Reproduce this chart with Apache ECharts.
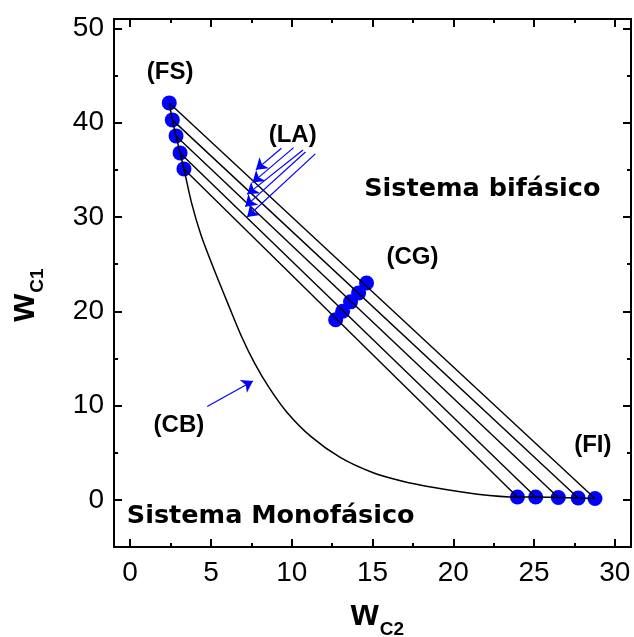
<!DOCTYPE html>
<html>
<head>
<meta charset="utf-8">
<script src="https://cdn.jsdelivr.net/npm/echarts@6/dist/echarts.min.js"></script>
<style>
  html, body { margin: 0; padding: 0; background: #fff; }
  #chart { width: 634px; height: 637px; }
</style>
</head>
<body>
<div id="chart"></div>
<script>
// tick values
const xMajor = [0, 5, 10, 15, 20, 25, 30]
const xMinor = [2.5, 7.5, 12.5, 17.5, 22.5, 27.5]
const yMajor = [0, 10, 20, 30, 40, 50]
const yMinor = [5, 15, 25, 35, 45]

// fase superior (FS), composicion global (CG), fase inferior (FI)
const fsPoints = [[2.42, 42.1], [2.61, 40.3], [2.84, 38.6], [3.09, 36.8], [3.33, 35.1]]
const cgPoints = [[14.63, 23.0], [14.14, 21.95], [13.64, 21.0], [13.15, 20.0], [12.72, 19.1]]
const fiPoints = [[28.77, 0.15], [27.73, 0.2], [26.5, 0.25], [25.1, 0.3], [23.97, 0.3]]

// curva binodal (CB)
const binodal = [
  [2.42, 42.1], [2.61, 40.3], [2.84, 38.6], [3.09, 36.8], [3.33, 35.1],
  [3.8, 31.5], [4.4, 28.0], [5.2, 24.4], [6.1, 20.6], [6.9, 17.3],
  [7.7, 14.5], [8.6, 11.9], [9.7, 9.3], [11.2, 6.7], [13.0, 4.5],
  [15.0, 2.9], [16.8, 2.0], [18.8, 1.3], [21.5, 0.6], [23.97, 0.3],
  [25.1, 0.3], [26.5, 0.25], [27.73, 0.2], [28.77, 0.15]
]

// flechas (inicio, fin)
const laArrows = [
  [[9.36, 37.3], [7.78, 35.0]],
  [[10.12, 37.36], [7.57, 33.65]],
  [[10.7, 37.1], [7.24, 32.4]],
  [[10.85, 36.9], [7.12, 31.1]],
  [[11.46, 36.7], [7.24, 30.0]]
]
const cbArrow = [[[4.77, 9.9], [7.6, 12.6]]]

// textos
const tagLabels = [
  ['(FS)', 2.47, 45.3],
  ['(LA)', 10.06, 38.7],
  ['(CG)', 17.47, 25.7],
  ['(CB)', 3.02, 7.95],
  ['(FI)', 28.64, 5.73]
]
const regionLabels = [
  ['Sistema bifásico', 21.8, 32.9],
  ['Sistema Monofásico', 8.7, -1.7]
]

const chart = echarts.init(document.getElementById('chart'))

function axis(dim, pos, ticks, len, withLabel) {
  return {
    type: 'value',
    position: pos,
    min: dim === 'x' ? -1 : -5,
    max: dim === 'x' ? 31 : 51,
    axisLine: { show: true, onZero: false, lineStyle: { color: '#000', width: 2 } },
    axisTick: { show: true, inside: true, length: len, customValues: ticks, lineStyle: { color: '#000', width: 2 } },
    axisLabel: {
      show: withLabel, customValues: ticks, color: '#000', fontSize: 28,
      fontFamily: 'Liberation Sans', margin: dim === 'x' ? 12 : 10
    },
    splitLine: { show: false }
  }
}

const nameRich = {
  w: { fontSize: 36, fontWeight: 'bold', fontFamily: 'Liberation Sans', color: '#000', lineHeight: 36 },
  s: { fontSize: 19, fontWeight: 'bold', fontFamily: 'Liberation Sans', color: '#000', lineHeight: 19, padding: [28, 0, 0, 1] }
}

const xAxes = [
  axis('x', 'bottom', xMajor, 8, true),
  axis('x', 'bottom', xMinor, 4, false),
  axis('x', 'top', xMajor, 8, false),
  axis('x', 'top', xMinor, 4, false)
]
xAxes[0].name = '{w|w}{s|C2}'
xAxes[0].nameLocation = 'middle'
xAxes[0].nameGap = 35
xAxes[0].nameTextStyle = { rich: nameRich, padding: [0, 0, 0, 10] }

const yAxes = [
  axis('y', 'left', yMajor, 8, true),
  axis('y', 'left', yMinor, 4, false),
  axis('y', 'right', yMajor, 8, false),
  axis('y', 'right', yMinor, 4, false)
]
yAxes[0].name = '{w|w}{s|C1}'
yAxes[0].nameLocation = 'middle'
yAxes[0].nameRotate = 90
yAxes[0].nameGap = 72
yAxes[0].nameTextStyle = { rich: nameRich, padding: [0, 24, 0, 0] }

const blue = '#0000ff'
const series = []

// puntos
;[fsPoints, cgPoints, fiPoints].forEach(function (pts) {
  series.push({
    type: 'scatter',
    data: pts,
    symbolSize: 15,
    itemStyle: { color: blue, opacity: 1 },
    z: 2
  })
})

// curva binodal
series.push({
  type: 'line',
  data: binodal,
  smooth: 0.3,
  showSymbol: false,
  lineStyle: { color: '#000', width: 1.5 },
  z: 3
})

// lineas de amarre
fsPoints.forEach(function (p, i) {
  series.push({
    type: 'line',
    data: [p, fiPoints[i]],
    showSymbol: false,
    lineStyle: { color: '#000', width: 1.4 },
    z: 3
  })
})

// flechas
series.push({
  type: 'lines',
  coordinateSystem: 'cartesian2d',
  data: laArrows.concat(cbArrow).map(function (c) { return { coords: c } }),
  symbol: ['none', 'arrow'],
  symbolSize: 11,
  lineStyle: { color: blue, width: 1.2, opacity: 1 },
  z: 4
})

// textos
function textSeries(list, family, size) {
  return {
    type: 'scatter',
    data: list.map(function (l) { return { value: [l[1], l[2]], name: l[0] } }),
    symbolSize: 0,
    silent: true,
    itemStyle: { opacity: 1 },
    label: {
      show: true,
      position: 'inside',
      formatter: '{b}',
      color: '#000',
      opacity: 1,
      fontWeight: 'bold',
      fontFamily: family,
      fontSize: size
    },
    z: 5
  }
}
series.push(textSeries(tagLabels, 'Liberation Sans', 24))
series.push(textSeries(regionLabels, 'DejaVu Sans', 25.5))

chart.setOption({
  animation: false,
  grid: { left: 114, right: 3, top: 19, bottom: 90, outerBoundsMode: 'none' },
  xAxis: xAxes,
  yAxis: yAxes,
  series: series
})
</script>
</body>
</html>
